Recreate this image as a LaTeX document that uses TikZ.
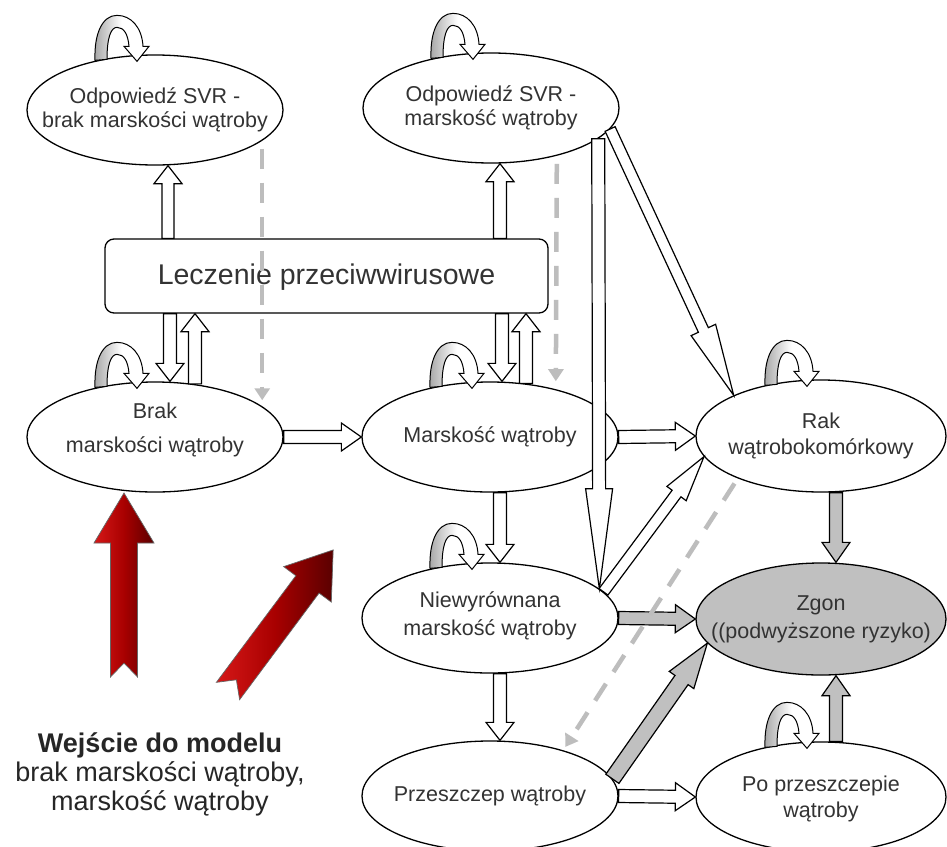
\documentclass[tikz,border=0pt]{standalone}
\usepackage{fontspec}
\setmainfont{Liberation Sans}
\usetikzlibrary{shapes.geometric,calc,arrows.meta}
\definecolor{txt}{HTML}{333333}
\definecolor{zg}{HTML}{C0C0C0}
\definecolor{dashgray}{HTML}{BDBDBD}
\definecolor{redA}{HTML}{D61818}
\definecolor{redM}{HTML}{A80000}
\definecolor{redB}{HTML}{5A0000}
\newcommand\blockarrow[6]{%
  \coordinate (ba) at #2;
  \coordinate (bb) at #3;
  \path[#1] ($(ba)!#4!90:(bb)$) -- ($(bb)!#6!(ba)!#4!-90:(ba)$) -- ($(bb)!#6!(ba)!#5!-90:(ba)$) -- (bb)
     -- ($(bb)!#6!(ba)!#5!90:(ba)$) -- ($(bb)!#6!(ba)!#4!90:(ba)$) -- ($(ba)!#4!-90:(bb)$) -- cycle;
}
\tikzset{
  st/.style={ellipse, draw, line width=1.3pt, fill=white, minimum width=256pt, minimum height=110pt, inner sep=0pt},
  lbl/.style={align=center, text=txt, inner sep=0pt, font=\fontsize{21.5}{24}\selectfont},
  warr/.style={draw, line width=1.2pt, fill=white, line join=miter},
  garr/.style={draw, line width=1.2pt, fill=zg, line join=miter},
  dsh/.style={draw=dashgray, line width=4.5pt, dash pattern=on 20pt off 14pt, -{Triangle[length=12pt,width=15pt]}},
  redarr/.style={draw=black!60, line width=0.7pt, left color=redA, right color=redB, middle color=redM},
  selfloop/.pic={
    \shadedraw[line width=1pt, left color=black!35, right color=white, middle color=white]
      (-60,6) .. controls (-61,-22) and (-52,-39) .. (-38,-39) .. controls (-24,-39) and (-13,-27) .. (-12,-8)
      -- (-6,-8) -- (-18,7) -- (-31,-8) -- (-26,-8)
      .. controls (-27,-20) and (-31,-27) .. (-38,-27) .. controls (-44,-27) and (-48,-17) .. (-48,5) -- cycle;
  }
}
\begin{document}
\begin{tikzpicture}[x=1pt,y=-1pt]
\fill[white] (0,0) rectangle (947,846);
\useasboundingbox (0,0) rectangle (947,846);

% ellipses
\node[st] (svrb) at (155,110) {};
\node[st] (svrm) at (491,108) {};
\node[st] (brak) at (155,437) {};
\node[st] (marsk) at (490,437) {};
\node[st, minimum width=250pt, minimum height=112pt] (rak) at (821,436) {};
\node[st] (niew) at (490,618) {};
\node[st, fill=zg, minimum width=250pt, minimum height=112pt] (zgon) at (821,619) {};
\node[st] (przes) at (490,796) {};
\node[st, minimum width=250pt, minimum height=110pt] (popr) at (821,797) {};
\node[draw, line width=1.3pt, rounded corners=9pt, fill=white, minimum width=443pt, minimum height=74pt, inner sep=0pt] (lecz) at (326.5,276) {};

% labels
\node[lbl] (svrbT) at (svrb.center) {Odpowiedź SVR -\\brak marskości wątroby};
\node[lbl] (svrmT) at (svrm.center) {Odpowiedź SVR -\\marskość wątroby};
\node[lbl, font=\fontsize{21.5}{34}\selectfont] (brakT) at ([yshift=7pt]brak.center) {Brak\\marskości wątroby};
\node[lbl] (marskT) at (marsk.center) {Marskość wątroby};
\node[lbl, font=\fontsize{21.5}{26}\selectfont] (rakT) at (rak.center) {Rak\\wątrobokomórkowy};
\node[lbl, font=\fontsize{21.5}{28}\selectfont] (niewT) at ([yshift=2pt]niew.center) {Niewyrównana\\marskość wątroby};
\node[lbl, font=\fontsize{21.5}{28}\selectfont] (zgonT) at (zgon.center) {Zgon\\((podwyższone ryzyko)};
\node[lbl] (przesT) at (przes.center) {Przeszczep wątroby};
\node[lbl, font=\fontsize{21.5}{26}\selectfont] (poprT) at ([yshift=-2pt]popr.center) {Po przeszczepie\\wątroby};
\node[lbl, font=\fontsize{28.5}{32}\selectfont] (leczT) at ([yshift=-1pt]lecz.center) {Leczenie przeciwwirusowe};

% self loops
\pic at (svrb.north) {selfloop};
\pic at (svrm.north) {selfloop};
\pic at (brak.north) {selfloop};
\pic at (marsk.north) {selfloop};
\pic at ([xshift=4pt]rak.north) {selfloop};
\pic at (niew.north) {selfloop};
\pic at ([xshift=4pt]popr.north) {selfloop};

% anchor helpers
\coordinate (x1) at ([xshift=13pt]svrb.south);
\coordinate (x2) at ([xshift=15pt]brak.north);
\coordinate (x3) at ([xshift=40pt,yshift=-2.5pt]brak.north);
\coordinate (x4) at ([xshift=9pt]svrm.south);
\coordinate (x5) at ([xshift=12pt]marsk.north);
\coordinate (x6) at ([xshift=36pt,yshift=-2pt]marsk.north);

% white block arrows
\blockarrow{warr}{(x1 |- lecz.north)}{(x1)}{6pt}{14pt}{18pt}
\blockarrow{warr}{(x2 |- lecz.south)}{(x2)}{6.5pt}{14pt}{18pt}
\blockarrow{warr}{(x3)}{(x3 |- lecz.south)}{6.5pt}{14pt}{18pt}
\blockarrow{warr}{(x4 |- lecz.north)}{(x4)}{6.5pt}{14pt}{18pt}
\blockarrow{warr}{(x5 |- lecz.south)}{(x5)}{6.5pt}{14pt}{18pt}
\blockarrow{warr}{(x6)}{(x6 |- lecz.south)}{6.5pt}{14pt}{18pt}
\blockarrow{warr}{(brak.east)}{(marsk.west)}{6.5pt}{14pt}{20pt}
\blockarrow{warr}{(marsk.east)}{(rak.west)}{6.5pt}{14pt}{20pt}
\blockarrow{warr}{([xshift=10pt]marsk.south)}{([xshift=10pt]niew.north)}{6.5pt}{14pt}{18pt}
\blockarrow{warr}{([xshift=10pt]niew.south)}{([xshift=10pt]przes.north)}{6.5pt}{14pt}{18pt}
\blockarrow{warr}{(przes.east)}{(popr.west)}{6.5pt}{14pt}{20pt}
\blockarrow{warr}{(svrm.344)}{(niew.15)}{6.5pt}{13.5pt}{100pt}
\blockarrow{warr}{(svrm.350)}{(rak.155)}{5.5pt}{13.5pt}{72pt}
\blockarrow{warr}{(niew.13)}{(rak.190)}{5.5pt}{12pt}{46pt}

% grey block arrows
\blockarrow{garr}{(niew.east)}{(zgon.west)}{6.5pt}{14pt}{20pt}
\blockarrow{garr}{([xshift=15pt]rak.south)}{([xshift=15pt]zgon.north)}{6.5pt}{14pt}{20pt}
\blockarrow{garr}{([xshift=15pt]popr.north)}{([xshift=15pt]zgon.south)}{6.5pt}{14pt}{20pt}
\blockarrow{garr}{(przes.8)}{(zgon.192)}{8pt}{15pt}{45pt}

% dashed grey arrows
\draw[dsh, shorten <=8pt, shorten >=6pt] (svrb.344) -- (brak.16);
\draw[dsh, shorten <=8pt, shorten >=8pt] (svrm.324) -- (marsk.36);
\draw[dsh, shorten <=6pt, shorten >=4pt] (rak.207) -- (przes.32);

% red entry arrows
\begin{scope}[shift={(124,677)}, rotate=90]
  \shadedraw[redarr] (0,13.5) -- (134,13.5) -- (134,30) -- (184,0) -- (134,-30) -- (134,-13.5) -- (0,-13.5) -- (14,0) -- cycle;
\end{scope}
\begin{scope}[shift={(228,691)}, rotate=53.3]
  \shadedraw[redarr] (0,14.5) -- (133,14.5) -- (133,29.7) -- (176,0) -- (133,-29.7) -- (133,-14.5) -- (0,-14.5) -- (14,0) -- cycle;
\end{scope}

% entry text
\node[align=center, text=black!85, inner sep=0pt, font=\fontsize{27}{29}\selectfont] (entry) at (160,774)
  {\textbf{Wejście do modelu}\\brak marskości wątroby,\\marskość wątroby};
\end{tikzpicture}
\end{document}
